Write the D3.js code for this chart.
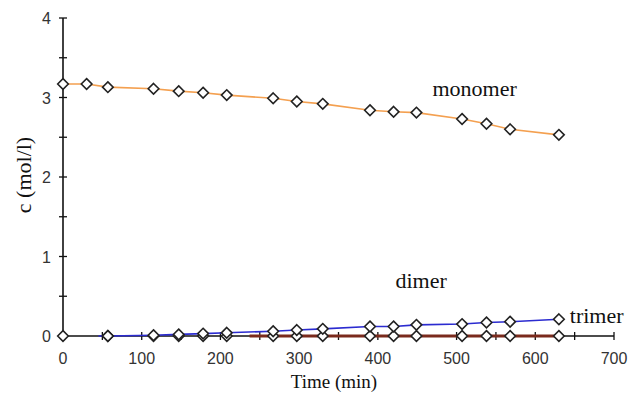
<!DOCTYPE html>
<html>
<head>
<meta charset="utf-8">
<script src="https://cdn.jsdelivr.net/npm/d3@7"></script>
<style>
  body { margin: 0; background: #fff; }
  svg { display: block; }
</style>
</head>
<body>
<svg id="chart" width="630" height="393"></svg>
<script>
var svg = d3.select("#chart");

// data
var monoTime = [0, 30, 57, 115, 147, 178, 208, 267, 297, 330, 390, 420, 449, 507, 538, 568, 630];
var monoConc = [3.17, 3.17, 3.13, 3.11, 3.08, 3.06, 3.03, 2.99, 2.95, 2.92, 2.84, 2.82, 2.81, 2.73, 2.67, 2.60, 2.53];
var dimerTime = [45, 57, 115, 147, 178, 208, 267, 297, 330, 390, 420, 449, 507, 538, 568, 630];
var dimerConc = [0.0, 0.0, 0.01, 0.02, 0.03, 0.04, 0.06, 0.075, 0.09, 0.12, 0.12, 0.14, 0.15, 0.17, 0.18, 0.21];
var zeroTime = [0, 57, 115, 147, 178, 208, 267, 297, 330, 390, 420, 449, 507, 538, 568, 630];
var zeroConc = [0, 0, 0, 0, 0, 0, 0, 0, 0, 0, 0, 0, 0, 0, 0, 0];
var brownTime = [237, 267, 297, 330, 390, 420, 449, 507, 538, 568, 630];
var brownConc = [0, 0, 0, 0, 0, 0, 0, 0, 0, 0, 0];
var xTicks = [0, 100, 200, 300, 400, 500, 600, 700];
var yTicks = [0, 1, 2, 3, 4];
var labels = [
  {text: "monomer", t: 523, c: 3.02},
  {text: "dimer", t: 455, c: 0.6},
  {text: "trimer", t: 678, c: 0.16}
];

var x = d3.scaleLinear().domain([0, 700]).range([63, 614]);
var y = d3.scaleLinear().domain([0, 4]).range([336, 18]);

//axes with crossing ticks
var xMinor = d3.range(0, 701, 50);
var yMinor = d3.range(0, 4.01, 0.5);

var gx = svg.append("g");
gx.append("line").attr("x1", x(0)).attr("x2", x(700))
  .attr("y1", y(0)).attr("y2", y(0))
  .attr("stroke", "#111").attr("stroke-width", 1.6);
gx.selectAll("line.tk").data(xMinor).enter().append("line")
  .attr("class", "tk")
  .attr("x1", function(d){return x(d)}).attr("x2", function(d){return x(d)})
  .attr("y1", y(0) - 4).attr("y2", y(0) + 4)
  .attr("stroke", "#111").attr("stroke-width", 1.3);
gx.selectAll("text").data(xTicks).enter().append("text")
  .attr("x", function(d){return x(d)})
  .attr("y", 364)
  .attr("text-anchor", "middle")
  .attr("font-family", "Liberation Sans, Arial, sans-serif")
  .attr("font-size", 16)
  .attr("fill", "#333")
  .text(function(d){return d});

var gy = svg.append("g");
gy.append("line").attr("x1", x(0)).attr("x2", x(0))
  .attr("y1", y(0)).attr("y2", y(4))
  .attr("stroke", "#111").attr("stroke-width", 1.6);
gy.selectAll("line.tk").data(yMinor).enter().append("line")
  .attr("class", "tk")
  .attr("x1", x(0) - 4).attr("x2", x(0) + 4)
  .attr("y1", function(d){return y(d)}).attr("y2", function(d){return y(d)})
  .attr("stroke", "#111").attr("stroke-width", 1.3);
gy.selectAll("text").data(yTicks).enter().append("text")
  .attr("x", 51)
  .attr("y", function(d){return y(d) + 6})
  .attr("text-anchor", "end")
  .attr("font-family", "Liberation Sans, Arial, sans-serif")
  .attr("font-size", 16)
  .attr("fill", "#333")
  .text(function(d){return d});

svg.append("text")
  .attr("x", 334).attr("y", 388)
  .attr("text-anchor", "middle")
  .attr("font-family", "Liberation Serif, Times New Roman, serif")
  .attr("font-size", 19)
  .attr("fill", "#111")
  .text("Time (min)");

svg.append("text")
  .attr("transform", "translate(31,175) rotate(-90)")
  .attr("text-anchor", "middle")
  .attr("font-family", "Liberation Serif, Times New Roman, serif")
  .attr("font-size", 22)
  .attr("fill", "#111")
  .text("c (mol/l)");

//series lines
var line = d3.line()
  .x(function(d){return x(d[0])})
  .y(function(d){return y(d[1])});

var pairs = function(ts, cs){
  return ts.map(function(t, i){return [t, cs[i]]});
};

var monoPts = pairs(monoTime, monoConc);
var dimerPts = pairs(dimerTime, dimerConc);
var zeroPts = pairs(zeroTime, zeroConc);
var brownPts = pairs(brownTime, brownConc);

svg.append("path").datum(brownPts).attr("d", line)
  .attr("fill", "none").attr("stroke", "#7a2a1c").attr("stroke-width", 3);
svg.append("path").datum(monoPts).attr("d", line)
  .attr("fill", "none").attr("stroke", "#f4a050").attr("stroke-width", 1.6);
svg.append("path").datum(dimerPts).attr("d", line)
  .attr("fill", "none").attr("stroke", "#2b2bd0").attr("stroke-width", 1.6);

//diamond markers
var diamond = d3.symbol().type(d3.symbolDiamond2).size(72);
var drawMarkers = function(pts){
  svg.append("g").selectAll("path").data(pts).enter().append("path")
    .attr("d", diamond)
    .attr("transform", function(d){return "translate(" + x(d[0]) + "," + y(d[1]) + ")"})
    .attr("fill", "#fff")
    .attr("stroke", "#222")
    .attr("stroke-width", 1.6);
};
drawMarkers(zeroPts);
drawMarkers(dimerPts.slice(1));
drawMarkers(monoPts);

//series labels
svg.selectAll("text.lbl").data(labels).enter().append("text")
  .attr("class", "lbl")
  .attr("x", function(d){return x(d.t)})
  .attr("y", function(d){return y(d.c)})
  .attr("text-anchor", "middle")
  .attr("font-family", "Liberation Serif, Times New Roman, serif")
  .attr("font-size", 22)
  .attr("fill", "#111")
  .text(function(d){return d.text});
</script>
</body>
</html>
